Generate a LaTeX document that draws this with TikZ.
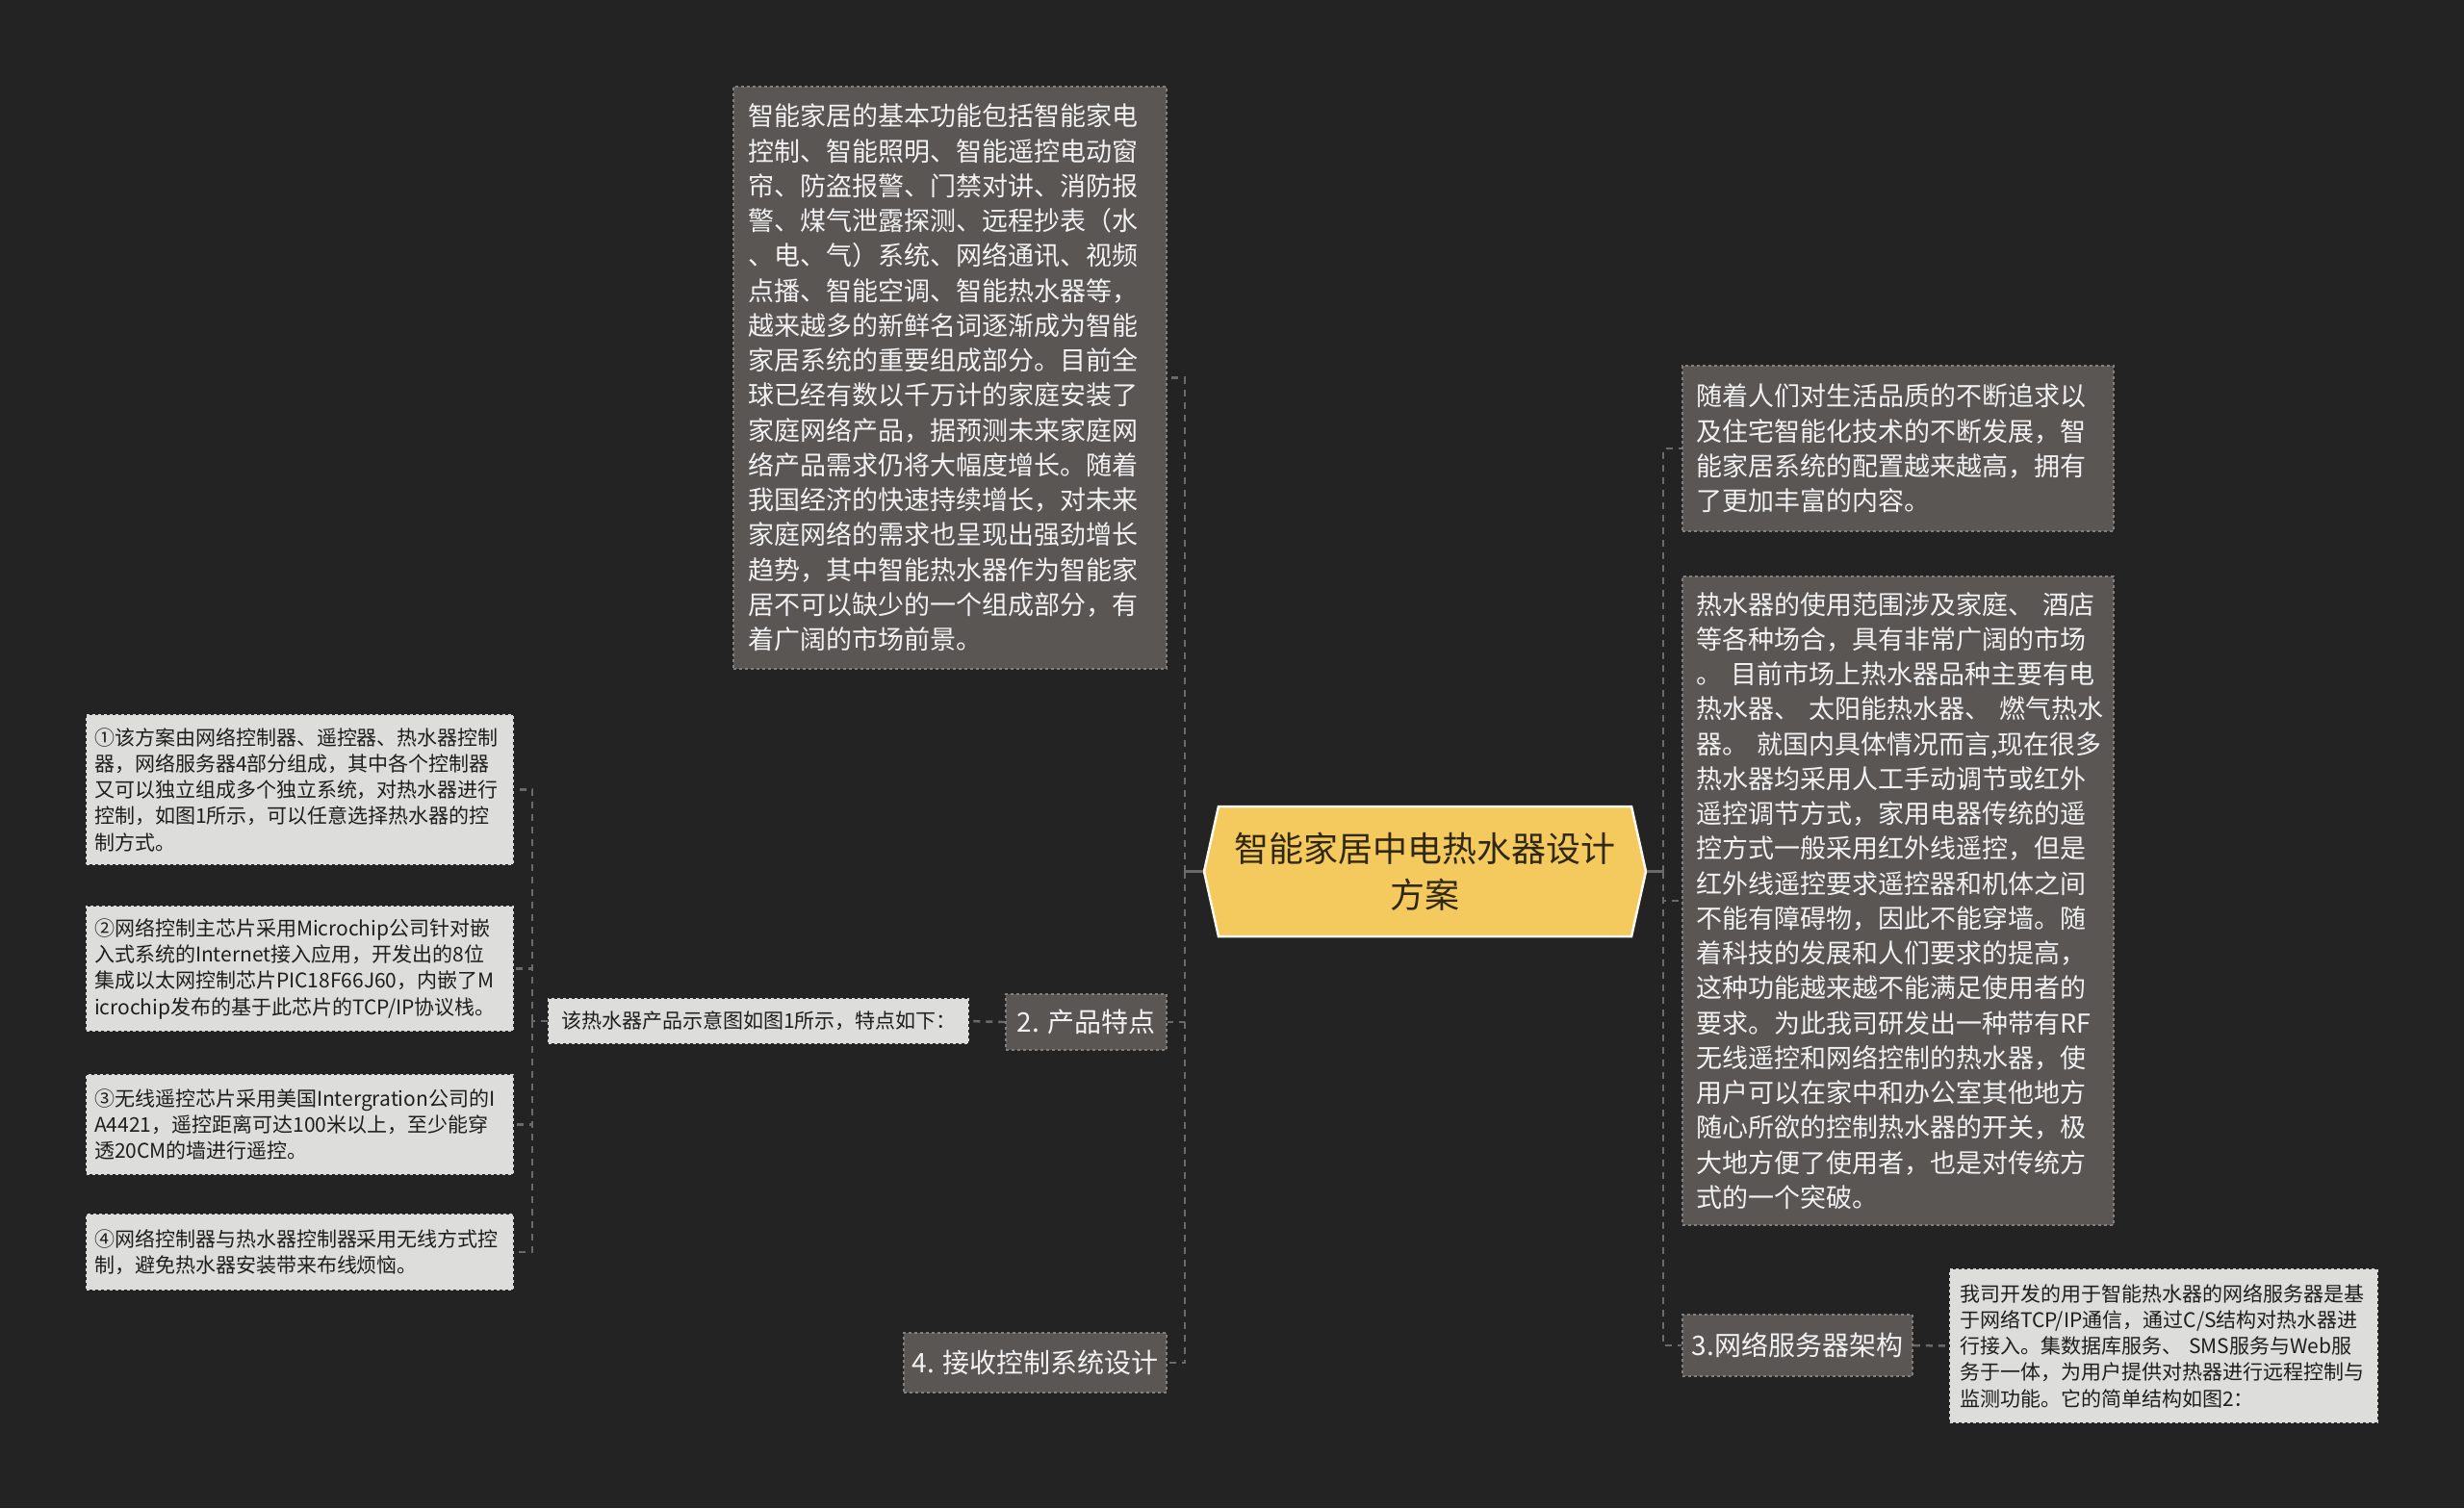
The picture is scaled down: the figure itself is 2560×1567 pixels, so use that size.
\documentclass[tikz,border=0pt]{standalone}
\usepackage{fontspec}
\newfontfamily\zhfont{Noto Sans CJK SC}
\usetikzlibrary{shapes.symbols}
\definecolor{canvas}{HTML}{232323}
\definecolor{boxdark}{HTML}{595654}
\definecolor{boxlight}{HTML}{DDDDDB}
\definecolor{rootfill}{HTML}{F4C95D}
\definecolor{wiregray}{HTML}{6A6A6A}
\definecolor{inkdark}{HTML}{1E1E1E}
\tikzset{
    darkbox/.style={
        rectangle, draw=boxdark!75!white, dashed, line width=1.5pt,
        fill=boxdark, text=white!95!black, align=left,
        inner xsep=14pt, inner ysep=0pt, text width=420pt,
        font={\zhfont\fontsize{27pt}{36.25pt}\selectfont}
    },
    lightbox/.style={
        rectangle, draw=white!85!black, dashed, line width=1.5pt,
        fill=boxlight, text=inkdark, align=left,
        inner xsep=8pt, inner ysep=0pt, text width=427pt,
        font={\zhfont\fontsize{21pt}{27.3pt}\selectfont}
    },
    topic/.style={
        rectangle, draw=boxdark!75!white, dashed, line width=1.5pt,
        fill=boxdark, text=white!95!black, inner sep=0pt,
        font={\zhfont\fontsize{28pt}{34pt}\selectfont}
    },
    root/.style={
        signal, signal to=west and east, signal pointer angle=155,
        draw=white!90!rootfill, line width=2.5pt, fill=rootfill,
        text=black!80!rootfill, align=center, inner sep=0pt,
        minimum width=459pt, minimum height=135pt,
        font={\zhfont\fontsize{36pt}{48pt}\selectfont}
    },
    wire/.style={draw=wiregray, line width=2.5pt, dash pattern=on 7pt off 6pt},
    stubwire/.style={draw=wiregray, line width=2.5pt}
}

\begin{document}
\begin{tikzpicture}[x=1pt, y=-1pt]

\fill[canvas] (0,0) rectangle (2560,1567);
\useasboundingbox (0,0) rectangle (2560,1567);

% Central topic
\node[root] (hub) at (1480.5,905.5) {智能家居中电热水器设计\\方案};

% Left branch
\node[darkbox, minimum width=450pt, minimum height=605pt] (intro) at (987,392.5) {%
智能家居的基本功能包括智能家电\\
控制、智能照明、智能遥控电动窗\\
帘、防盗报警、门禁对讲、消防报\\
警、煤气泄露探测、远程抄表（水\\
、电、气）系统、网络通讯、视频\\
点播、智能空调、智能热水器等，\\
越来越多的新鲜名词逐渐成为智能\\
家居系统的重要组成部分。目前全\\
球已经有数以千万计的家庭安装了\\
家庭网络产品，据预测未来家庭网\\
络产品需求仍将大幅度增长。随着\\
我国经济的快速持续增长，对未来\\
家庭网络的需求也呈现出强劲增长\\
趋势，其中智能热水器作为智能家\\
居不可以缺少的一个组成部分，有\\
着广阔的市场前景。};

\node[topic, minimum width=167pt, minimum height=58pt] (feat) at (1128.5,1062) {2. 产品特点};
\node[topic, minimum width=273pt, minimum height=62pt] (recv) at (1075.5,1416) {4. 接收控制系统设计};

\coordinate (lt) at (1231,905.5);
\draw[stubwire] (hub.west) -- (lt);
\draw[wire] (lt) |- (intro.east);
\draw[wire] (lt) |- (feat.east);
\draw[wire] (lt) |- (recv.east);

% Product features
\node[lightbox, text width=410pt, inner xsep=13pt, minimum width=436pt, minimum height=46pt] (featdesc) at (788,1061) {该热水器产品示意图如图1所示，特点如下：};
\draw[wire] (feat.west) -- (featdesc.east);

\node[lightbox, minimum width=443pt, minimum height=155pt] (p1) at (311.5,820.5) {%
①该方案由网络控制器、遥控器、热水器控制\\
器，网络服务器4部分组成，其中各个控制器\\
又可以独立组成多个独立系统，对热水器进行\\
控制，如图1所示，可以任意选择热水器的控\\
制方式。};
\node[lightbox, minimum width=443pt, minimum height=129pt] (p2) at (311.5,1006.5) {%
②网络控制主芯片采用Microchip公司针对嵌\\
入式系统的Internet接入应用，开发出的8位\\
集成以太网控制芯片PIC18F66J60，内嵌了M\\
icrochip发布的基于此芯片的TCP/IP协议栈。};
\node[lightbox, minimum width=443pt, minimum height=103pt] (p3) at (311.5,1168.5) {%
③无线遥控芯片采用美国Intergration公司的I\\
A4421，遥控距离可达100米以上，至少能穿\\
透20CM的墙进行遥控。};
\node[lightbox, minimum width=443pt, minimum height=78pt] (p4) at (311.5,1301) {%
④网络控制器与热水器控制器采用无线方式控\\
制，避免热水器安装带来布线烦恼。};

\coordinate (ft) at (553,1061);
\draw[wire] (featdesc.west) -- (ft);
\draw[wire] (ft) |- (p1.east);
\draw[wire] (ft) |- (p2.east);
\draw[wire] (ft) |- (p3.east);
\draw[wire] (ft) |- (p4.east);

% Right branch
\node[darkbox, minimum width=448pt, minimum height=172pt] (need) at (1972,466) {%
随着人们对生活品质的不断追求以\\
及住宅智能化技术的不断发展，智\\
能家居系统的配置越来越高，拥有\\
了更加丰富的内容。};
\node[darkbox, minimum width=448pt, minimum height=674pt] (market) at (1972,936) {%
热水器的使用范围涉及家庭、~酒店\\
等各种场合，具有非常广阔的市场\\
。~目前市场上热水器品种主要有电\\
热水器、~太阳能热水器、~燃气热水\\
器。~就国内具体情况而言,现在很多\\
热水器均采用人工手动调节或红外\\
遥控调节方式，家用电器传统的遥\\
控方式一般采用红外线遥控，但是\\
红外线遥控要求遥控器和机体之间\\
不能有障碍物，因此不能穿墙。随\\
着科技的发展和人们要求的提高，\\
这种功能越来越不能满足使用者的\\
要求。为此我司研发出一种带有RF\\
无线遥控和网络控制的热水器，使\\
用户可以在家中和办公室其他地方\\
随心所欲的控制热水器的开关，极\\
大地方便了使用者，也是对传统方\\
式的一个突破。};
\node[topic, minimum width=239pt, minimum height=64pt] (net) at (1867.5,1398) {3.网络服务器架构};

\coordinate (rt) at (1728,905.5);
\draw[stubwire] (hub.east) -- (rt);
\draw[wire] (rt) |- (need.west);
\draw[wire] (rt) |- (market.west);
\draw[wire] (rt) |- (net.west);

% Server architecture
\node[lightbox, text width=424pt, inner xsep=10pt, minimum width=444pt, minimum height=159pt] (netdesc) at (2248,1398.5) {%
我司开发的用于智能热水器的网络服务器是基\\
于网络TCP/IP通信，通过C/S结构对热水器进\\
行接入。集数据库服务、~SMS服务与Web服\\
务于一体，为用户提供对热器进行远程控制与\\
监测功能。它的简单结构如图2：};
\draw[wire] (net.east) -- (netdesc.west);

\end{tikzpicture}
\end{document}
